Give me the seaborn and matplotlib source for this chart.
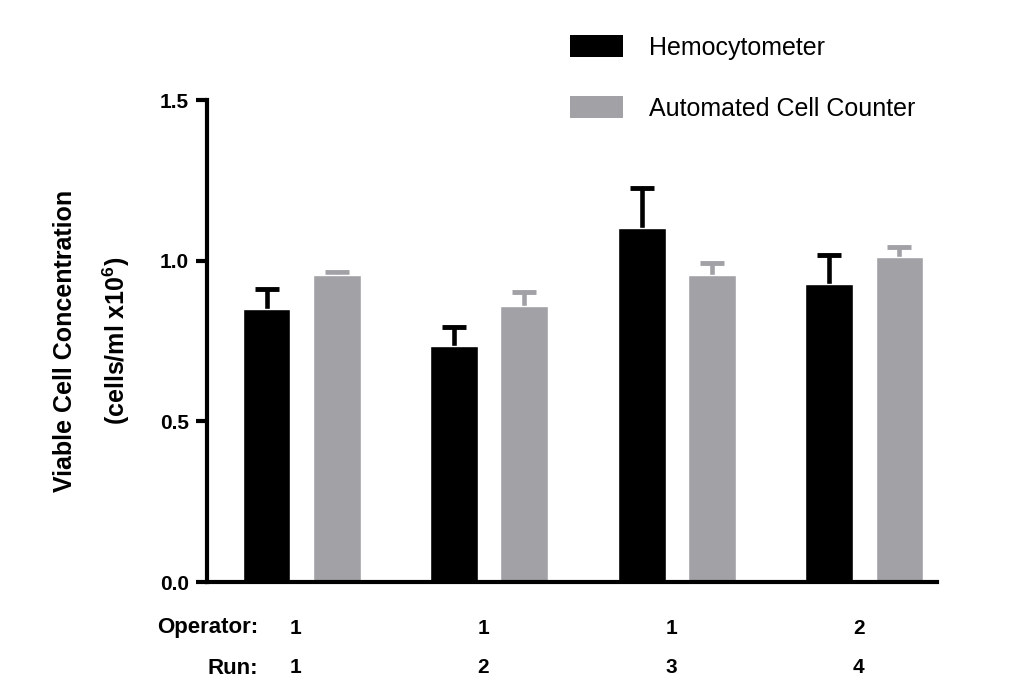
import matplotlib
matplotlib.use("Agg")
import matplotlib.pyplot as plt
import seaborn as sns
import pandas as pd
import numpy as np
from matplotlib.patches import Patch

runs = ["1", "2", "3", "4"]
operators = ["1", "1", "1", "2"]
series = ["Hemocytometer", "Automated Cell Counter"]
hemo_mean = [0.850, 0.735, 1.103, 0.928]
hemo_err = [0.063, 0.060, 0.122, 0.091]
auto_mean = [0.956, 0.860, 0.956, 1.012]
auto_err = [0.010, 0.041, 0.036, 0.032]
colors = ["#000000", "#A2A1A6"]

df = pd.DataFrame({
    "run": runs * 2,
    "method": [series[0]] * 4 + [series[1]] * 4,
    "value": hemo_mean + auto_mean,
})

sns.set_style("white")
plt.rcParams["font.family"] = ["Liberation Sans", "DejaVu Sans"]
plt.rcParams["text.color"] = "black"
plt.rcParams["axes.labelcolor"] = "black"
plt.rcParams["xtick.color"] = "black"
plt.rcParams["ytick.color"] = "black"
plt.rcParams["mathtext.fontset"] = "custom"
plt.rcParams["mathtext.bf"] = "Liberation Sans:bold"
plt.rcParams["mathtext.rm"] = "Liberation Sans"

fig = plt.figure(figsize=(10.19, 6.86), dpi=100)
ax = fig.add_axes([0.203, 0.1516, 0.717, 0.7026])

sns.barplot(data=df, x="run", y="value", hue="method", order=runs,
            hue_order=series, palette=colors, width=0.748, gap=0.32,
            errorbar=None, legend=False, ax=ax, saturation=1, zorder=2)

# upper-only error bars, positioned from the drawn bar patches
errs = {series[0]: hemo_err, series[1]: auto_err}
bars = list(ax.patches)
cap_half = 0.064
for i, s in enumerate(series):
    hb = bars[i * 4:(i + 1) * 4]
    xs = np.array([b.get_x() + b.get_width() / 2 for b in hb])
    ys = np.array([b.get_height() for b in hb])
    tops = ys + np.array(errs[s])
    ax.vlines(xs, ys, tops, colors=colors[i], linewidth=3.3, zorder=1)
    ax.hlines(tops, xs - cap_half, xs + cap_half, colors=colors[i],
              linewidth=3.5, zorder=1)

ax.set_ylim(0, 1.5)
ax.set_xlim(-0.505, 3.39)
ax.set_yticks([0.0, 0.5, 1.0, 1.5])
ax.set_yticklabels(["0.0", "0.5", "1.0", "1.5"], fontsize=15, fontweight="bold")
ax.tick_params(axis="y", direction="out", length=8, width=3, left=True, pad=5)
ax.set_xticks(range(4))
ax.set_xticklabels([])
ax.tick_params(axis="x", length=0, bottom=False)
ax.set_xlabel("")
ax.set_ylabel("Viable Cell Concentration\n(cells/ml x10$^{\\mathbf{6}}$)",
              fontsize=18, fontweight="bold", linespacing=2.0)
ax.yaxis.set_label_coords(-0.102, 0.5)

# operator / run rows under each group
xt = ax.get_xaxis_transform()
for x, o, r in zip(ax.get_xticks(), operators, runs):
    ax.text(x - 0.03, -0.096, o, transform=xt, ha="center", va="center",
            fontsize=15, fontweight="bold")
    ax.text(x - 0.03, -0.178, r, transform=xt, ha="center", va="center",
            fontsize=15, fontweight="bold")
fig.text(258 / 1019, 1 - 628 / 686, "Operator:", ha="right", va="center",
         fontsize=16, fontweight="bold")
fig.text(258 / 1019, 1 - 668 / 686, "Run:", ha="right", va="center",
         fontsize=16, fontweight="bold")

for side in ["top", "right"]:
    ax.spines[side].set_visible(False)
for side in ["left", "bottom"]:
    ax.spines[side].set_linewidth(3)
    ax.spines[side].set_color("black")

handles = [Patch(facecolor=c, edgecolor="none") for c in colors]
leg = fig.legend(handles, series, loc="upper left",
                 bbox_to_anchor=(570 / 1019, 1 - 35 / 686), frameon=False,
                 fontsize=18, handlelength=2.1, handleheight=1.0,
                 labelspacing=1.45, handletextpad=1.05, borderpad=0,
                 borderaxespad=0)

fig.savefig("out.png", dpi=100)
